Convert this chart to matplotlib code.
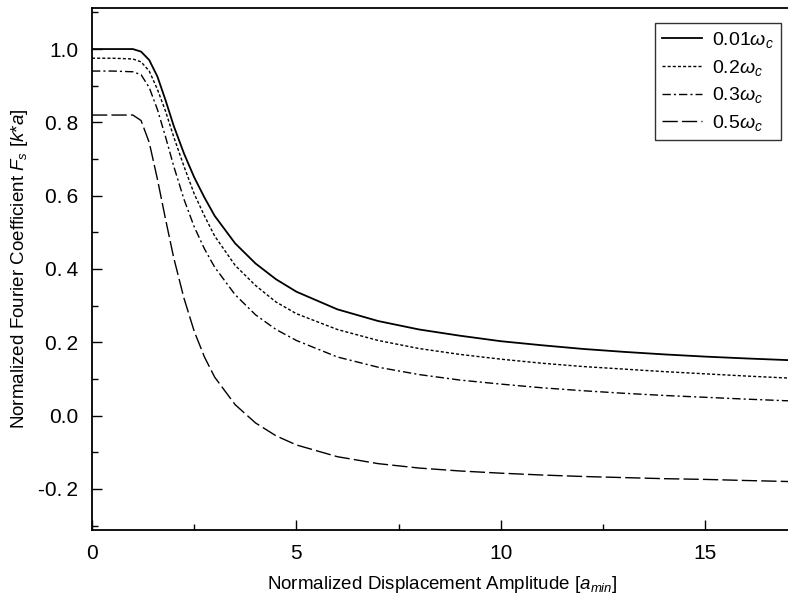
import matplotlib
matplotlib.use("Agg")
import matplotlib.pyplot as plt
from matplotlib.ticker import MultipleLocator

plt.rcParams['font.family'] = ['Liberation Sans', 'DejaVu Sans']
plt.rcParams['mathtext.fontset'] = 'custom'
plt.rcParams['mathtext.rm'] = 'Liberation Sans'
plt.rcParams['mathtext.it'] = 'Liberation Sans:italic'

# displacement amplitude (units of a_min)
x = [0, 0.5, 1.0, 1.2, 1.4, 1.6, 1.8, 2.0, 2.25, 2.5, 2.75, 3.0, 3.5, 4.0,
     4.5, 5, 6, 7, 8, 9, 10, 11, 12, 13, 14, 15, 16, 17.12]

fs_001 = [1.0, 1.0, 1.0, 0.993, 0.97, 0.925, 0.86, 0.79, 0.715, 0.65, 0.595, 0.545,
          0.47, 0.415, 0.372, 0.338, 0.29, 0.258, 0.235, 0.218, 0.203, 0.192,
          0.182, 0.174, 0.167, 0.161, 0.156, 0.151]
fs_02 = [0.975, 0.975, 0.973, 0.965, 0.94, 0.89, 0.83, 0.76, 0.68, 0.605, 0.545,
         0.49, 0.41, 0.355, 0.31, 0.278, 0.235, 0.205, 0.183, 0.167, 0.154, 0.143,
         0.134, 0.127, 0.12, 0.114, 0.108, 0.102]
fs_03 = [0.94, 0.94, 0.938, 0.93, 0.895, 0.835, 0.76, 0.68, 0.59, 0.515, 0.455,
         0.405, 0.33, 0.275, 0.235, 0.205, 0.16, 0.132, 0.112, 0.097, 0.086,
         0.076, 0.068, 0.061, 0.055, 0.05, 0.045, 0.04]
fs_05 = [0.82, 0.82, 0.82, 0.805, 0.745, 0.645, 0.535, 0.43, 0.32, 0.23, 0.16,
         0.105, 0.03, -0.02, -0.055, -0.08, -0.112, -0.131, -0.143, -0.151,
         -0.157, -0.162, -0.166, -0.169, -0.172, -0.174, -0.177, -0.18]

labels = [r'0.01$\omega_c$', r'0.2$\omega_c$', r'0.3$\omega_c$', r'0.5$\omega_c$']
ytick_vals = [-0.2, 0.0, 0.2, 0.4, 0.6, 0.8, 1.0]
ytick_text = ['-0.\u20092', '0.0', '0.\u20092', '0.\u20094', '0.\u20096', '0.\u20098', '1.0']

fig = plt.figure(figsize=(7.88, 6.04), dpi=100)
ax = fig.add_axes([92/788, 74/604, 700/788, 522/604])

ax.plot(x, fs_001, color='k', lw=1.3, label=labels[0])
ax.plot(x, fs_02, color='k', lw=1.0, dashes=(2.2, 1.5), label=labels[1])
ax.plot(x, fs_03, color='k', lw=1.0, dashes=(6, 2.2, 1.5, 2.2), label=labels[2])
ax.plot(x, fs_05, color='k', lw=1.0, dashes=(11, 3), label=labels[3])

ax.set_xlim(0, 17.12)
ax.set_ylim(-0.312, 1.112)
ax.xaxis.set_major_locator(MultipleLocator(5))
ax.xaxis.set_minor_locator(MultipleLocator(2.5))
ax.yaxis.set_minor_locator(MultipleLocator(0.1))
ax.set_yticks(ytick_vals)
ax.set_yticklabels(ytick_text)
ax.tick_params(which='major', direction='in', length=7, width=1, labelsize=15, pad=10)
ax.tick_params(which='minor', direction='in', length=4, width=1)
ax.tick_params(top=False, right=False, which='both')
ax.spines['right'].set_visible(False)
for s in ['left', 'bottom', 'top']:
    ax.spines[s].set_linewidth(1.3)

ax.set_xlabel(r'Normalized Displacement Amplitude [$a_{min}$]', fontsize=13.5, labelpad=8)
ax.set_ylabel(r'Normalized Fourier Coefficient $F_s$ [$k$*$a$]', fontsize=13.5, labelpad=6)

leg = ax.legend(loc='upper right', bbox_to_anchor=(0.984, 0.971), borderaxespad=0,
                fontsize=14, frameon=True, fancybox=False, edgecolor='k',
                handlelength=2.1, borderpad=0.35, labelspacing=0.4, handletextpad=0.5)
leg.get_frame().set_linewidth(1.0)

fig.savefig('out.png', dpi=100)
